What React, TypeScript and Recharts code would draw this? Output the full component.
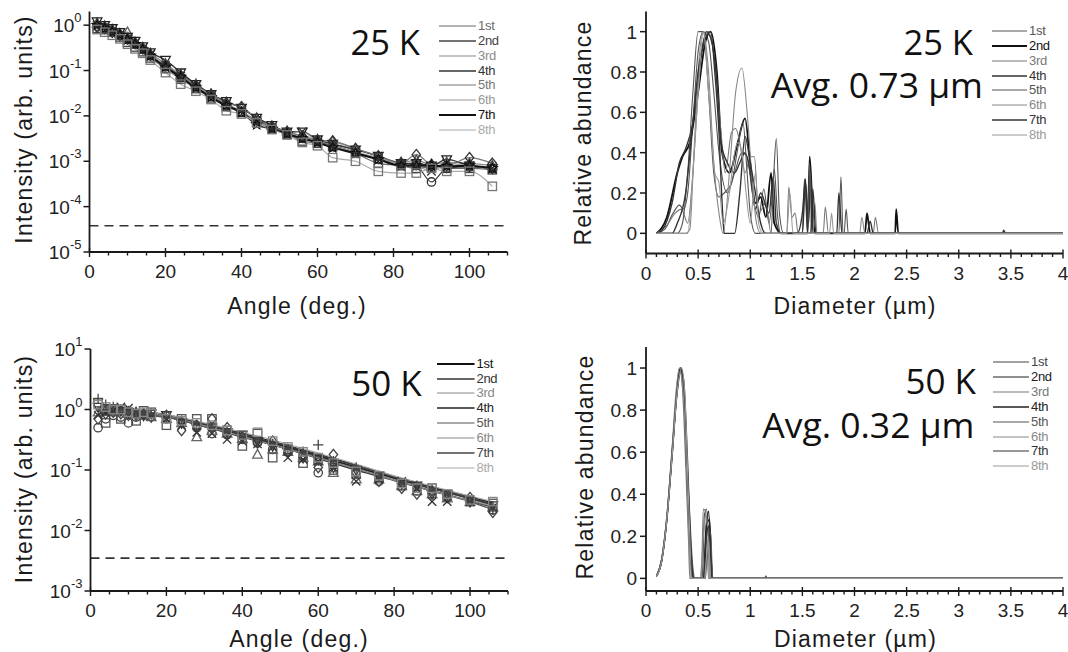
import React from 'react'
import { ComposedChart, Line, Scatter, XAxis, YAxis, ReferenceLine, Legend } from 'recharts'

const SANS = "'Liberation Sans', Arial, sans-serif"
const BIG = "'Open Sans', 'Noto Sans', sans-serif"
const AX = '#1a1a1a'

const seriesNames = ['1st', '2nd', '3rd', '4th', '5th', '6th', '7th', '8th']

// angle data (deg.) for the scattering intensity
const angles = [2, 4, 6, 8, 10, 12, 14, 16, 20, 24, 28, 32, 36, 40, 44, 48, 52, 56, 60, 64, 70, 76, 82, 86, 90, 94, 100, 106]

const i25_1 = [0.85, 0.8, 0.7, 0.55, 0.42, 0.33, 0.26, 0.19, 0.11, 0.065, 0.04, 0.025, 0.016, 0.012, 0.0078, 0.0052, 0.004, 0.0028, 0.0025, 0.0021, 0.0015, 0.0009, 0.0008, 0.0007, 0.00075, 0.0007, 0.0007, 0.00065]
const i25_2 = [0.95, 0.88, 0.72, 0.6, 0.48, 0.38, 0.3, 0.21, 0.12, 0.07, 0.044, 0.027, 0.017, 0.012, 0.008, 0.0056, 0.0042, 0.0032, 0.0027, 0.0022, 0.0016, 0.0011, 0.0009, 0.0008, 0.00035, 0.0007, 0.00075, 0.0007]
const i25_3 = [1.1, 0.95, 0.8, 0.65, 0.7, 0.42, 0.32, 0.24, 0.14, 0.08, 0.05, 0.03, 0.02, 0.015, 0.009, 0.006, 0.0046, 0.0036, 0.003, 0.0027, 0.0019, 0.0013, 0.00095, 0.00105, 0.00085, 0.00095, 0.0009, 0.0008]
const i25_4 = [1.2, 1.0, 0.85, 0.7, 0.55, 0.45, 0.34, 0.25, 0.17, 0.09, 0.05, 0.03, 0.021, 0.015, 0.009, 0.0062, 0.0045, 0.0045, 0.003, 0.0024, 0.0018, 0.0013, 0.0009, 0.0009, 0.0008, 0.0011, 0.0008, 0.0007]
const i25_5 = [0.9, 0.85, 0.7, 0.6, 0.5, 0.4, 0.3, 0.22, 0.13, 0.078, 0.046, 0.03, 0.019, 0.016, 0.0085, 0.0058, 0.0045, 0.0035, 0.0029, 0.0028, 0.0019, 0.0013, 0.0009, 0.0014, 0.00085, 0.0008, 0.0012, 0.0009]
const i25_6 = [1.0, 0.9, 0.75, 0.6, 0.5, 0.4, 0.3, 0.22, 0.13, 0.075, 0.045, 0.028, 0.018, 0.013, 0.0075, 0.0055, 0.0042, 0.0045, 0.0027, 0.0022, 0.0016, 0.0012, 0.00085, 0.0008, 0.0006, 0.0009, 0.0008, 0.0007]
const i25_7 = [1.0, 0.85, 0.72, 0.6, 0.48, 0.38, 0.29, 0.21, 0.12, 0.072, 0.042, 0.026, 0.017, 0.012, 0.0065, 0.0052, 0.004, 0.0032, 0.0026, 0.002, 0.0015, 0.0011, 0.0008, 0.0008, 0.0008, 0.00078, 0.0008, 0.0007]
const i25_8 = [0.8, 0.7, 0.6, 0.5, 0.38, 0.3, 0.24, 0.17, 0.09, 0.05, 0.035, 0.023, 0.013, 0.011, 0.007, 0.005, 0.0038, 0.0026, 0.0022, 0.0012, 0.001, 0.0006, 0.00055, 0.00055, 0.0007, 0.0006, 0.0006, 0.00028]

const i50_1 = [1.3, 0.6, 1.0, 0.7, 0.9, 0.65, 0.95, 0.9, 0.55, 0.7, 0.7, 0.7, 0.45, 0.25, 0.4, 0.16, 0.22, 0.13, 0.15, 0.1, 0.085, 0.075, 0.055, 0.05, 0.05, 0.036, 0.03, 0.028]
const i50_2 = [0.5, 0.7, 0.8, 0.75, 0.6, 0.75, 0.8, 0.85, 0.7, 0.6, 0.5, 0.4, 0.38, 0.32, 0.28, 0.22, 0.2, 0.17, 0.09, 0.12, 0.09, 0.065, 0.055, 0.045, 0.04, 0.035, 0.03, 0.022]
const i50_3 = [0.9, 1.0, 0.9, 0.95, 0.85, 0.9, 0.8, 0.75, 0.7, 0.6, 0.35, 0.45, 0.4, 0.33, 0.18, 0.22, 0.2, 0.16, 0.14, 0.09, 0.07, 0.07, 0.055, 0.045, 0.04, 0.034, 0.03, 0.024]
const i50_4 = [1.1, 1.0, 1.05, 0.95, 0.9, 0.85, 0.8, 0.85, 0.8, 0.6, 0.5, 0.5, 0.42, 0.38, 0.3, 0.25, 0.2, 0.17, 0.15, 0.11, 0.1, 0.08, 0.06, 0.055, 0.04, 0.04, 0.03, 0.026]
const i50_5 = [0.7, 0.85, 0.9, 0.85, 0.8, 0.8, 0.85, 0.75, 0.8, 0.45, 0.55, 0.7, 0.5, 0.35, 0.28, 0.3, 0.2, 0.16, 0.11, 0.18, 0.09, 0.065, 0.05, 0.04, 0.045, 0.035, 0.035, 0.02]
const i50_6 = [0.8, 0.9, 0.95, 1.1, 1.05, 0.9, 0.8, 0.8, 0.7, 0.55, 0.42, 0.4, 0.32, 0.3, 0.27, 0.24, 0.16, 0.15, 0.14, 0.11, 0.065, 0.07, 0.065, 0.05, 0.03, 0.03, 0.03, 0.024]
const i50_7 = [1.5, 1.2, 1.1, 1.0, 0.95, 0.9, 0.85, 0.85, 0.75, 0.65, 0.55, 0.5, 0.42, 0.36, 0.3, 0.27, 0.22, 0.2, 0.26, 0.14, 0.11, 0.08, 0.06, 0.055, 0.045, 0.038, 0.03, 0.022]
const i50_8 = [1.2, 1.1, 1.0, 1.0, 0.9, 0.85, 0.9, 0.85, 0.7, 0.65, 0.6, 0.55, 0.45, 0.38, 0.42, 0.3, 0.24, 0.2, 0.16, 0.13, 0.095, 0.08, 0.06, 0.05, 0.05, 0.04, 0.032, 0.03]

// fitted curves for 50 K
const fitAngles = [2, 10, 20, 30, 40, 50, 60, 70, 80, 90, 100, 106]
const f50_1 = [0.95, 0.9, 0.8, 0.58, 0.4, 0.27, 0.18, 0.12, 0.078, 0.052, 0.036, 0.029]
const f50_2 = [0.85, 0.85, 0.75, 0.52, 0.35, 0.24, 0.155, 0.1, 0.067, 0.045, 0.031, 0.024]
const f50_3 = [0.9, 0.88, 0.78, 0.55, 0.37, 0.25, 0.165, 0.11, 0.072, 0.048, 0.033, 0.026]
const f50_4 = [1.0, 0.92, 0.8, 0.56, 0.38, 0.26, 0.17, 0.112, 0.074, 0.05, 0.034, 0.027]
const f50_5 = [0.8, 0.82, 0.74, 0.52, 0.36, 0.24, 0.16, 0.105, 0.068, 0.045, 0.03, 0.022]
const f50_6 = [0.95, 0.92, 0.78, 0.54, 0.36, 0.24, 0.158, 0.104, 0.068, 0.045, 0.031, 0.025]
const f50_7 = [1.1, 0.98, 0.82, 0.58, 0.39, 0.27, 0.18, 0.118, 0.077, 0.05, 0.035, 0.027]
const f50_8 = [1.05, 0.95, 0.82, 0.6, 0.42, 0.29, 0.19, 0.125, 0.08, 0.054, 0.037, 0.03]

// size distributions [diameter um, relative abundance]
const s25_1 = [[0.1, 0], [0.18, 0.02], [0.26, 0.1], [0.32, 0.14], [0.36, 0.12], [0.4, 0.2], [0.45, 0.55], [0.5, 0.9], [0.55, 1], [0.6, 0.95], [0.65, 0.7], [0.7, 0.4], [0.78, 0.2], [0.85, 0.3], [0.92, 0.4], [0.97, 0.38], [1.02, 0.2], [1.08, 0.08], [1.13, 0.22], [1.18, 0.05], [1.22, 0.25], [1.25, 0.47], [1.28, 0.1], [1.32, 0], [1.5, 0], [1.52, 0.27], [1.55, 0], [1.85, 0], [1.87, 0.28], [1.89, 0], [4, 0]]
const s25_2 = [[0.1, 0], [0.2, 0.08], [0.3, 0.3], [0.35, 0.38], [0.42, 0.45], [0.5, 0.7], [0.57, 0.95], [0.62, 1], [0.68, 0.8], [0.73, 0.4], [0.8, 0.3], [0.88, 0.45], [0.95, 0.57], [1.0, 0.35], [1.05, 0.15], [1.1, 0.18], [1.15, 0.08], [1.2, 0.3], [1.23, 0.05], [1.3, 0], [1.55, 0], [1.57, 0.38], [1.6, 0.1], [1.62, 0], [2.1, 0], [2.12, 0.1], [2.15, 0], [2.39, 0], [2.4, 0.12], [2.42, 0], [4, 0]]
const s25_3 = [[0.1, 0], [0.2, 0.04], [0.28, 0.1], [0.34, 0.12], [0.4, 0.05], [0.45, 0.3], [0.5, 0.7], [0.55, 0.95], [0.6, 1], [0.66, 0.85], [0.72, 0.5], [0.76, 0.3], [0.82, 0.5], [0.86, 0.52], [0.9, 0.45], [0.95, 0.3], [1.0, 0.38], [1.04, 0.38], [1.08, 0.1], [1.15, 0.15], [1.2, 0], [1.35, 0], [1.37, 0.23], [1.4, 0.08], [1.43, 0.1], [1.46, 0], [1.7, 0], [1.72, 0.13], [1.75, 0], [2.18, 0], [2.2, 0.08], [2.23, 0], [4, 0]]
const s25_4 = [[0.1, 0], [0.16, 0.02], [0.25, 0.15], [0.32, 0.35], [0.38, 0.42], [0.45, 0.55], [0.52, 0.85], [0.58, 1], [0.63, 0.95], [0.68, 0.75], [0.72, 0.45], [0.78, 0.35], [0.85, 0.3], [0.9, 0.35], [0.95, 0.4], [1.0, 0.3], [1.05, 0.12], [1.1, 0.2], [1.18, 0.1], [1.22, 0.28], [1.25, 0.05], [1.3, 0], [1.5, 0], [1.53, 0.25], [1.56, 0.05], [1.58, 0.3], [1.6, 0], [1.83, 0], [1.85, 0.2], [1.88, 0], [4, 0]]
const s25_5 = [[0.1, 0], [0.3, 0], [0.35, 0.05], [0.4, 0.3], [0.45, 0.7], [0.5, 1], [0.55, 1], [0.6, 0.7], [0.65, 0.3], [0.7, 0.18], [0.75, 0.2], [0.82, 0.25], [0.88, 0.42], [0.93, 0.55], [0.97, 0.3], [1.0, 0.1], [1.05, 0], [1.2, 0], [1.23, 0.32], [1.26, 0.1], [1.29, 0], [1.55, 0], [1.57, 0.35], [1.59, 0], [1.9, 0], [1.92, 0.12], [1.94, 0], [4, 0]]
const s25_6 = [[0.1, 0], [0.38, 0], [0.42, 0.02], [0.46, 0.4], [0.5, 0.8], [0.55, 1], [0.6, 0.8], [0.65, 0.35], [0.7, 0.1], [0.74, 0], [0.8, 0.3], [0.86, 0.7], [0.92, 0.82], [0.97, 0.6], [1.02, 0.25], [1.06, 0.05], [1.1, 0], [1.6, 0], [1.62, 0.15], [1.64, 0], [2.05, 0], [2.07, 0.08], [2.1, 0], [4, 0]]
const s25_7 = [[0.1, 0], [0.25, 0], [0.3, 0.05], [0.38, 0.2], [0.44, 0.5], [0.5, 0.8], [0.56, 0.95], [0.62, 1], [0.66, 0.8], [0.7, 0.5], [0.73, 0.15], [0.75, 0], [0.85, 0], [0.9, 0.2], [0.95, 0.48], [1.0, 0.35], [1.05, 0.2], [1.1, 0.05], [1.15, 0], [1.45, 0], [1.5, 0.1], [1.53, 0.27], [1.55, 0], [1.58, 0], [1.6, 0.22], [1.63, 0], [2.12, 0], [2.15, 0.06], [2.18, 0], [3.42, 0], [3.43, 0.015], [3.45, 0], [4, 0]]
const s25_8 = [[0.1, 0], [0.4, 0], [0.45, 0.3], [0.5, 0.7], [0.55, 1], [0.6, 0.7], [0.63, 0.5], [0.66, 0.3], [0.7, 0.25], [0.74, 0.05], [0.8, 0.2], [0.85, 0.4], [0.88, 0.45], [0.92, 0.4], [0.96, 0.2], [1.0, 0.05], [1.05, 0.3], [1.08, 0.05], [1.12, 0], [1.35, 0], [1.38, 0.2], [1.41, 0], [1.76, 0], [1.78, 0.1], [1.8, 0], [4, 0]]

const s50_1 = [[0.1, 0.01], [0.15, 0.09], [0.2, 0.29], [0.25, 0.6], [0.3, 0.92], [0.33, 1], [0.36, 0.92], [0.39, 0.6], [0.42, 0.2], [0.44, 0], [0.54, 0], [0.56, 0.3], [0.58, 0.33], [0.6, 0.2], [0.62, 0], [1.14, 0], [1.15, 0.012], [1.16, 0], [4, 0]]
const s50_2 = [[0.1, 0.01], [0.15, 0.08], [0.2, 0.28], [0.25, 0.58], [0.31, 0.95], [0.34, 1], [0.37, 0.85], [0.4, 0.45], [0.43, 0.1], [0.45, 0], [0.55, 0], [0.57, 0.2], [0.6, 0.32], [0.62, 0.15], [0.64, 0], [4, 0]]
const s50_3 = [[0.1, 0.01], [0.15, 0.08], [0.2, 0.28], [0.26, 0.65], [0.32, 1], [0.35, 0.9], [0.38, 0.55], [0.41, 0.15], [0.42, 0], [0.53, 0], [0.55, 0.33], [0.57, 0.32], [0.59, 0.1], [0.6, 0], [4, 0]]
const s50_4 = [[0.1, 0.01], [0.15, 0.09], [0.2, 0.29], [0.25, 0.6], [0.3, 0.9], [0.33, 1], [0.37, 0.8], [0.4, 0.4], [0.44, 0.05], [0.46, 0], [0.56, 0], [0.58, 0.25], [0.61, 0.28], [0.63, 0.05], [0.64, 0], [4, 0]]
const s50_5 = [[0.1, 0.01], [0.15, 0.08], [0.2, 0.27], [0.25, 0.57], [0.3, 0.88], [0.34, 1], [0.38, 0.7], [0.42, 0.3], [0.45, 0.05], [0.47, 0], [0.57, 0], [0.59, 0.15], [0.62, 0.22], [0.64, 0], [4, 0]]
const s50_6 = [[0.1, 0.01], [0.15, 0.09], [0.2, 0.3], [0.25, 0.62], [0.29, 0.9], [0.32, 1], [0.36, 0.85], [0.39, 0.5], [0.41, 0.2], [0.43, 0], [0.52, 0], [0.54, 0.12], [0.57, 0.3], [0.59, 0.25], [0.61, 0], [4, 0]]
const s50_7 = [[0.1, 0.01], [0.15, 0.08], [0.2, 0.28], [0.25, 0.59], [0.3, 0.9], [0.33, 0.99], [0.36, 0.95], [0.4, 0.55], [0.43, 0.15], [0.46, 0], [0.55, 0], [0.58, 0.2], [0.6, 0.25], [0.62, 0.1], [0.63, 0], [4, 0]]
const s50_8 = [[0.1, 0.01], [0.15, 0.08], [0.2, 0.28], [0.25, 0.58], [0.3, 0.89], [0.34, 1], [0.37, 0.9], [0.41, 0.35], [0.44, 0], [0.56, 0], [0.58, 0.1], [0.6, 0.18], [0.62, 0], [4, 0]]

// ticks
const angleTicks = [0, 5, 10, 15, 20, 25, 30, 35, 40, 45, 50, 55, 60, 65, 70, 75, 80, 85, 90, 95, 100, 105, 110]
const angleMajor = [0, 20, 40, 60, 80, 100]
const diamTicks = [0, 0.1, 0.2, 0.3, 0.4, 0.5, 0.6, 0.7, 0.8, 0.9, 1, 1.1, 1.2, 1.3, 1.4, 1.5, 1.6, 1.7, 1.8, 1.9, 2, 2.1, 2.2, 2.3, 2.4, 2.5, 2.6, 2.7, 2.8, 2.9, 3, 3.1, 3.2, 3.3, 3.4, 3.5, 3.6, 3.7, 3.8, 3.9, 4]
const diamMajor = [0, 0.5, 1, 1.5, 2, 2.5, 3, 3.5, 4]
const logTicks25 = [1e-5, 1e-4, 1e-3, 1e-2, 1e-1, 1]
const logTicks50 = [1e-3, 1e-2, 1e-1, 1, 10]
const abundTicks = [0, 0.2, 0.4, 0.6, 0.8, 1]

const markerKinds25 = ['square', 'circle', 'up', 'down', 'diamond', 'x', 'star', 'square']
const markerKinds50 = ['square', 'circle', 'up', 'down', 'diamond', 'x', 'plus', 'square']
const colors25 = ['#6a6a6a', '#444', '#8a8a8a', '#333', '#777', '#999', '#111', '#aaa']
const widths25 = [1.2, 1.3, 1.2, 1.4, 1.2, 1.2, 2, 1.2]
const marks25 = ['#444', '#333', '#555', '#222', '#333', '#333', '#111', '#777']
const colors50 = ['#111', '#333', '#888', '#222', '#555', '#888', '#444', '#aaa']
const widths50 = [1.8, 1.4, 1.2, 1.6, 1.2, 1.2, 1.4, 1.2]
const marks50 = ['#555', '#444', '#666', '#333', '#444', '#333', '#444', '#888']
const sizeColors25 = ['#555', '#111', '#777', '#333', '#555', '#888', '#333', '#999']
const sizeWidths25 = [1.1, 1.8, 1.1, 1.4, 1.1, 1.1, 1.4, 1.1]
const sizeColors50 = ['#444', '#222', '#777', '#222', '#555', '#888', '#333', '#999']
const sizeWidths50 = [1.1, 1.2, 1.1, 1.4, 1.1, 1.1, 1.2, 1.1]

const pts = (xs: number[], ys: number[]) => xs.map((x, i) => ({ x, y: ys[i] }))
const pairs = (arr: number[][]) => arr.map(([x, y]) => ({ x, y }))

function markerShape(kind: string, color: string) {
  return (props: any) => {
    const { cx, cy } = props
    if (cx == null || cy == null) return <g />
    const s = 4.2
    const st = { fill: 'none', stroke: color, strokeWidth: 1.3 }
    switch (kind) {
      case 'square':
        return <rect x={cx - s} y={cy - s} width={2 * s} height={2 * s} {...st} />
      case 'circle':
        return <circle cx={cx} cy={cy} r={s} {...st} />
      case 'up':
        return <path d={`M${cx},${cy - s - 1}L${cx + s + 0.6},${cy + s - 0.6}L${cx - s - 0.6},${cy + s - 0.6}Z`} {...st} />
      case 'down':
        return <path d={`M${cx},${cy + s + 1}L${cx + s + 0.6},${cy - s + 0.6}L${cx - s - 0.6},${cy - s + 0.6}Z`} {...st} />
      case 'diamond':
        return <path d={`M${cx},${cy - s - 1}L${cx + s},${cy}L${cx},${cy + s + 1}L${cx - s},${cy}Z`} {...st} />
      case 'x':
        return <path d={`M${cx - s},${cy - s}L${cx + s},${cy + s}M${cx + s},${cy - s}L${cx - s},${cy + s}`} {...st} />
      case 'plus':
        return <path d={`M${cx - s - 1},${cy}L${cx + s + 1},${cy}M${cx},${cy - s - 1}L${cx},${cy + s + 1}`} {...st} />
      default: {
        const r1 = s + 1
        const r2 = r1 * 0.45
        let d = ''
        for (let k = 0; k < 10; k++) {
          const a = (-90 + k * 36) * Math.PI / 180
          const r = k % 2 === 0 ? r1 : r2
          d += (k === 0 ? 'M' : 'L') + (cx + r * Math.cos(a)).toFixed(2) + ',' + (cy + r * Math.sin(a)).toFixed(2)
        }
        return <path d={d + 'Z'} {...st} />
      }
    }
  }
}

function makeXTick(majors: number[]) {
  return (props: any) => {
    const { x, y, payload } = props
    const v = payload.value
    const major = majors.some((m) => Math.abs(m - v) < 1e-6)
    return (
      <g>
        <line x1={x} x2={x} y1={major ? y - 4 : y} y2={y + (major ? 5 : 3.5)} stroke={AX} strokeWidth={1.4} />
        {major && (
          <text x={x} y={y + 26} textAnchor="middle" fontSize={19} fontFamily={SANS} fill="#222">
            {String(v)}
          </text>
        )}
      </g>
    )
  }
}

const LogTick = (props: any) => {
  const { x, y, payload } = props
  const exp = Math.round(Math.log10(payload.value))
  return (
    <g>
      <line x1={x} x2={x - 6} y1={y} y2={y} stroke={AX} strokeWidth={1.5} />
      <text x={x - 8} y={y + 7} textAnchor="end" fontFamily={SANS} fill="#222">
        <tspan fontSize={19}>10</tspan>
        <tspan fontSize={13} dy={-10}>{String(exp)}</tspan>
      </text>
    </g>
  )
}

const LinTick = (props: any) => {
  const { x, y, payload } = props
  return (
    <g>
      <line x1={x} x2={x - 6} y1={y} y2={y} stroke={AX} strokeWidth={1.5} />
      <text x={x - 9} y={y + 7} textAnchor="end" fontSize={19} fontFamily={SANS} fill="#222">
        {String(payload.value)}
      </text>
    </g>
  )
}

function LegendBox({ payload, colors, widths, lineW }: any) {
  const items = (payload || []).filter((p: any) => seriesNames.includes(p.value))
  return (
    <div style={{ fontFamily: SANS, fontSize: 13 }}>
      {items.map((p: any) => {
        const i = seriesNames.indexOf(p.value)
        return (
          <div key={p.value} style={{ height: 14.85, display: 'flex', alignItems: 'center' }}>
            <svg width={lineW} height={4} style={{ display: 'block' }}>
              <line x1={0} x2={lineW} y1={2} y2={2} stroke={colors[i]} strokeWidth={widths[i]} />
            </svg>
            <span style={{ marginLeft: 2, color: colors[i], lineHeight: '14px', letterSpacing: -0.3 }}>{p.value}</span>
          </div>
        )
      })}
    </div>
  )
}

const W = 534
const H = 326

function IntensityPanel(p: any) {
  return (
    <ComposedChart width={W} height={H} margin={p.margin}>
      <XAxis
        dataKey="x"
        type="number"
        domain={[0, 110]}
        allowDataOverflow
        ticks={angleTicks}
        interval={0}
        tick={makeXTick(angleMajor)}
        tickLine={false}
        tickSize={0}
        tickMargin={0}
        height={p.xHeight}
        axisLine={{ stroke: AX, strokeWidth: 1.8 }}
      />
      <XAxis xAxisId="top" orientation="top" type="number" domain={[0, 110]} height={0} tick={false} tickLine={false} axisLine={{ stroke: AX, strokeWidth: 1.8 }} />
      <YAxis
        dataKey="y"
        type="number"
        scale="log"
        domain={p.yDomain}
        allowDataOverflow
        ticks={p.yTicks}
        interval={0}
        tick={LogTick}
        tickLine={false}
        tickSize={0}
        tickMargin={0}
        width={p.yWidth}
        axisLine={{ stroke: AX, strokeWidth: 1.8 }}
      />
      <YAxis yAxisId="right" orientation="right" type="number" domain={[0, 1]} width={0} tick={false} tickLine={false} axisLine={{ stroke: AX, strokeWidth: 1.8 }} />
      <ReferenceLine y={p.dashY} stroke="#333" strokeWidth={1.6} strokeDasharray="9 6" />
      {p.lines.map((d: any, i: number) => (
        <Line
          key={'l' + i}
          data={d}
          dataKey="y"
          name={seriesNames[i]}
          type="monotone"
          stroke={p.colors[i]}
          strokeWidth={p.widths[i]}
          dot={false}
          activeDot={false}
          isAnimationActive={false}
        />
      ))}
      {p.marks.map((d: any, i: number) => (
        <Scatter
          key={'s' + i}
          data={d}
          dataKey="y"
          name={'m' + i}
          legendType="none"
          shape={markerShape(p.kinds[i], p.markColors[i])}
          isAnimationActive={false}
        />
      ))}
      <Legend
        layout="vertical"
        align="center"
        verticalAlign="middle"
        wrapperStyle={{ left: p.legendLeft, top: p.legendTop, width: 90 }}
        content={(lp: any) => <LegendBox {...lp} colors={p.colors} widths={p.widths} lineW={p.legendLineW} />}
      />
    </ComposedChart>
  )
}

function SizePanel(p: any) {
  return (
    <ComposedChart width={W} height={H} margin={p.margin}>
      <XAxis
        dataKey="x"
        type="number"
        domain={[0, 4]}
        allowDataOverflow
        ticks={diamTicks}
        interval={0}
        tick={makeXTick(diamMajor)}
        tickLine={false}
        tickSize={0}
        tickMargin={0}
        height={p.xHeight}
        axisLine={{ stroke: AX, strokeWidth: 1.8 }}
      />
      <XAxis xAxisId="top" orientation="top" type="number" domain={[0, 4]} height={0} tick={false} tickLine={false} axisLine={{ stroke: AX, strokeWidth: 1.8 }} />
      <YAxis
        dataKey="y"
        type="number"
        domain={p.yDomain}
        allowDataOverflow
        ticks={abundTicks}
        interval={0}
        tick={LinTick}
        tickLine={false}
        tickSize={0}
        tickMargin={0}
        width={p.yWidth}
        axisLine={{ stroke: AX, strokeWidth: 1.8 }}
      />
      <YAxis yAxisId="right" orientation="right" type="number" domain={[0, 1]} width={0} tick={false} tickLine={false} axisLine={{ stroke: AX, strokeWidth: 1.8 }} />
      {p.lines.map((d: any, i: number) => (
        <Line
          key={'l' + i}
          data={d}
          dataKey="y"
          name={seriesNames[i]}
          type="monotone"
          stroke={p.colors[i]}
          strokeWidth={p.widths[i]}
          dot={false}
          activeDot={false}
          isAnimationActive={false}
        />
      ))}
      <Legend
        layout="vertical"
        align="center"
        verticalAlign="middle"
        wrapperStyle={{ left: p.legendLeft, top: p.legendTop, width: 80 }}
        content={(lp: any) => <LegendBox {...lp} colors={p.colors} widths={p.widths} lineW={p.legendLineW} />}
      />
    </ComposedChart>
  )
}

const data25 = [i25_1, i25_2, i25_3, i25_4, i25_5, i25_6, i25_7, i25_8].map((v) => pts(angles, v))
const data50 = [i50_1, i50_2, i50_3, i50_4, i50_5, i50_6, i50_7, i50_8].map((v) => pts(angles, v))
const fits50 = [f50_1, f50_2, f50_3, f50_4, f50_5, f50_6, f50_7, f50_8].map((v) => pts(fitAngles, v))
const size25 = [s25_1, s25_2, s25_3, s25_4, s25_5, s25_6, s25_7, s25_8].map(pairs)
const size50 = [s50_1, s50_2, s50_3, s50_4, s50_5, s50_6, s50_7, s50_8].map(pairs)

const titleStyle = { fontFamily: SANS, fontSize: 23, letterSpacing: 1.2, fill: '#1a1a1a' }

export default function App() {
  return (
    <div style={{ position: 'absolute', left: 0, top: 0, width: 1068, height: 652, background: '#fff', overflow: 'hidden' }}>
      <div style={{ position: 'absolute', left: 0, top: 0 }}>
        <IntensityPanel
          margin={{ top: 11.5, right: 26.5, left: 0, bottom: 0 }}
          xHeight={74}
          yWidth={89.5}
          yDomain={[1e-5, 2]}
          yTicks={logTicks25}
          dashY={3.8e-5}
          lines={data25}
          marks={data25}
          colors={colors25}
          widths={widths25}
          markColors={marks25}
          kinds={markerKinds25}
          legendLeft={439}
          legendTop={18.6}
          legendLineW={37}
        />
      </div>
      <div style={{ position: 'absolute', left: 534, top: 0 }}>
        <SizePanel
          margin={{ top: 11.5, right: 5, left: 0, bottom: 0 }}
          xHeight={72.5}
          yWidth={112}
          yDomain={[-0.1, 1.1]}
          lines={size25}
          colors={sizeColors25}
          widths={sizeWidths25}
          legendLeft={458}
          legendTop={23.6}
          legendLineW={35}
        />
      </div>
      <div style={{ position: 'absolute', left: 0, top: 326 }}>
        <IntensityPanel
          margin={{ top: 23, right: 26, left: 0, bottom: 0 }}
          xHeight={61}
          yWidth={90.5}
          yDomain={[1e-3, 10]}
          yTicks={logTicks50}
          dashY={3.5e-3}
          lines={fits50}
          marks={data50}
          colors={colors50}
          widths={widths50}
          markColors={marks50}
          kinds={markerKinds50}
          legendLeft={437}
          legendTop={30.3}
          legendLineW={37.5}
        />
      </div>
      <div style={{ position: 'absolute', left: 534, top: 326 }}>
        <SizePanel
          margin={{ top: 21, right: 5, left: 0, bottom: 0 }}
          xHeight={61}
          yWidth={112}
          yDomain={[-0.06, 1.1]}
          lines={size50}
          colors={sizeColors50}
          widths={sizeWidths50}
          legendLeft={459}
          legendTop={29}
          legendLineW={36}
        />
      </div>
      <svg width={1068} height={652} style={{ position: 'absolute', left: 0, top: 0, pointerEvents: 'none' }}>
        <text x={420} y={55} textAnchor="end" fontSize={34.5} fontFamily={BIG} fill="#111">25 K</text>
        <text x={973} y={55} textAnchor="end" fontSize={34.5} fontFamily={BIG} fill="#111">25 K</text>
        <text x={983} y={98} textAnchor="end" fontSize={35.5} fontFamily={BIG} fill="#111">Avg. 0.73 µm</text>
        <text x={421.8} y={395.5} textAnchor="end" fontSize={35} fontFamily={BIG} fill="#111">50 K</text>
        <text x={976} y={394} textAnchor="end" fontSize={35} fontFamily={BIG} fill="#111">50 K</text>
        <text x={974.5} y={438} textAnchor="end" fontSize={35.5} fontFamily={BIG} fill="#111">Avg. 0.32 µm</text>

        <text x={297} y={306} textAnchor="middle" dominantBaseline="central" style={titleStyle}>Angle (deg.)</text>
        <text x={299} y={639} textAnchor="middle" dominantBaseline="central" style={titleStyle}>Angle (deg.)</text>
        <text x={855} y={306} textAnchor="middle" dominantBaseline="central" style={titleStyle}>Diameter (µm)</text>
        <text x={855.5} y={639} textAnchor="middle" dominantBaseline="central" style={titleStyle}>Diameter (µm)</text>
        <text x={23.8} y={129.5} textAnchor="middle" dominantBaseline="central" transform="rotate(-90 23.8 129.5)" style={titleStyle}>Intensity (arb. units)</text>
        <text x={23.8} y={469} textAnchor="middle" dominantBaseline="central" transform="rotate(-90 23.8 469)" style={titleStyle}>Intensity (arb. units)</text>
        <text x={583} y={133} textAnchor="middle" dominantBaseline="central" transform="rotate(-90 583 133)" style={titleStyle}>Relative abundance</text>
        <text x={585} y={467} textAnchor="middle" dominantBaseline="central" transform="rotate(-90 585 467)" style={titleStyle}>Relative abundance</text>
      </svg>
    </div>
  )
}
